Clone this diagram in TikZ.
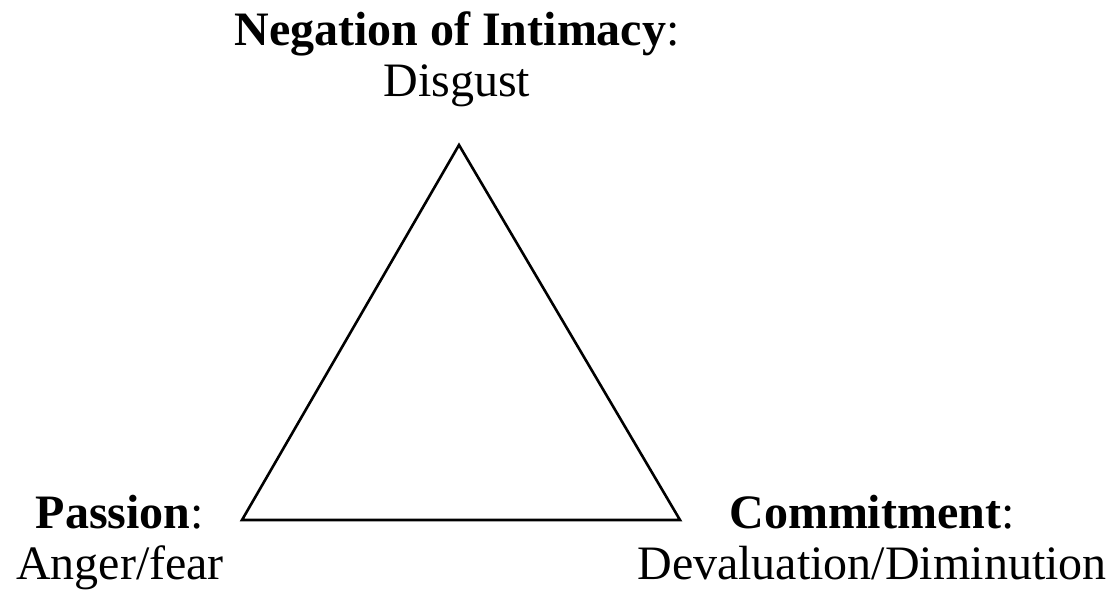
\documentclass[tikz,border=0pt]{standalone}
\usepackage{fontspec}
\setmainfont{Liberation Serif}
\begin{document}
\begin{tikzpicture}[x=0.5pt,y=-0.5pt,
  vlabel/.style={font=\fontsize{24}{25.5}\selectfont,align=center,inner sep=0pt,anchor=base},
  side/.style={line width=1.3pt,line join=miter}]
\useasboundingbox (0,0) rectangle (1116,597);
\coordinate (intimacy) at (459,145);
\coordinate (passion) at (242,520);
\coordinate (commit) at (680,520);
\draw[side] (intimacy) -- (passion) -- (commit) -- cycle;
\node[vlabel] (intimacyLbl) at (457,97) {\textbf{Negation of Intimacy}:\\ Disgust};
\node[vlabel] (passionLbl) at (120,580) {\textbf{Passion}:\\ Anger/fear};
\node[vlabel] (commitLbl) at (872,580) {\textbf{Commitment}:\\ Devaluation/Diminution};
\end{tikzpicture}
\end{document}
